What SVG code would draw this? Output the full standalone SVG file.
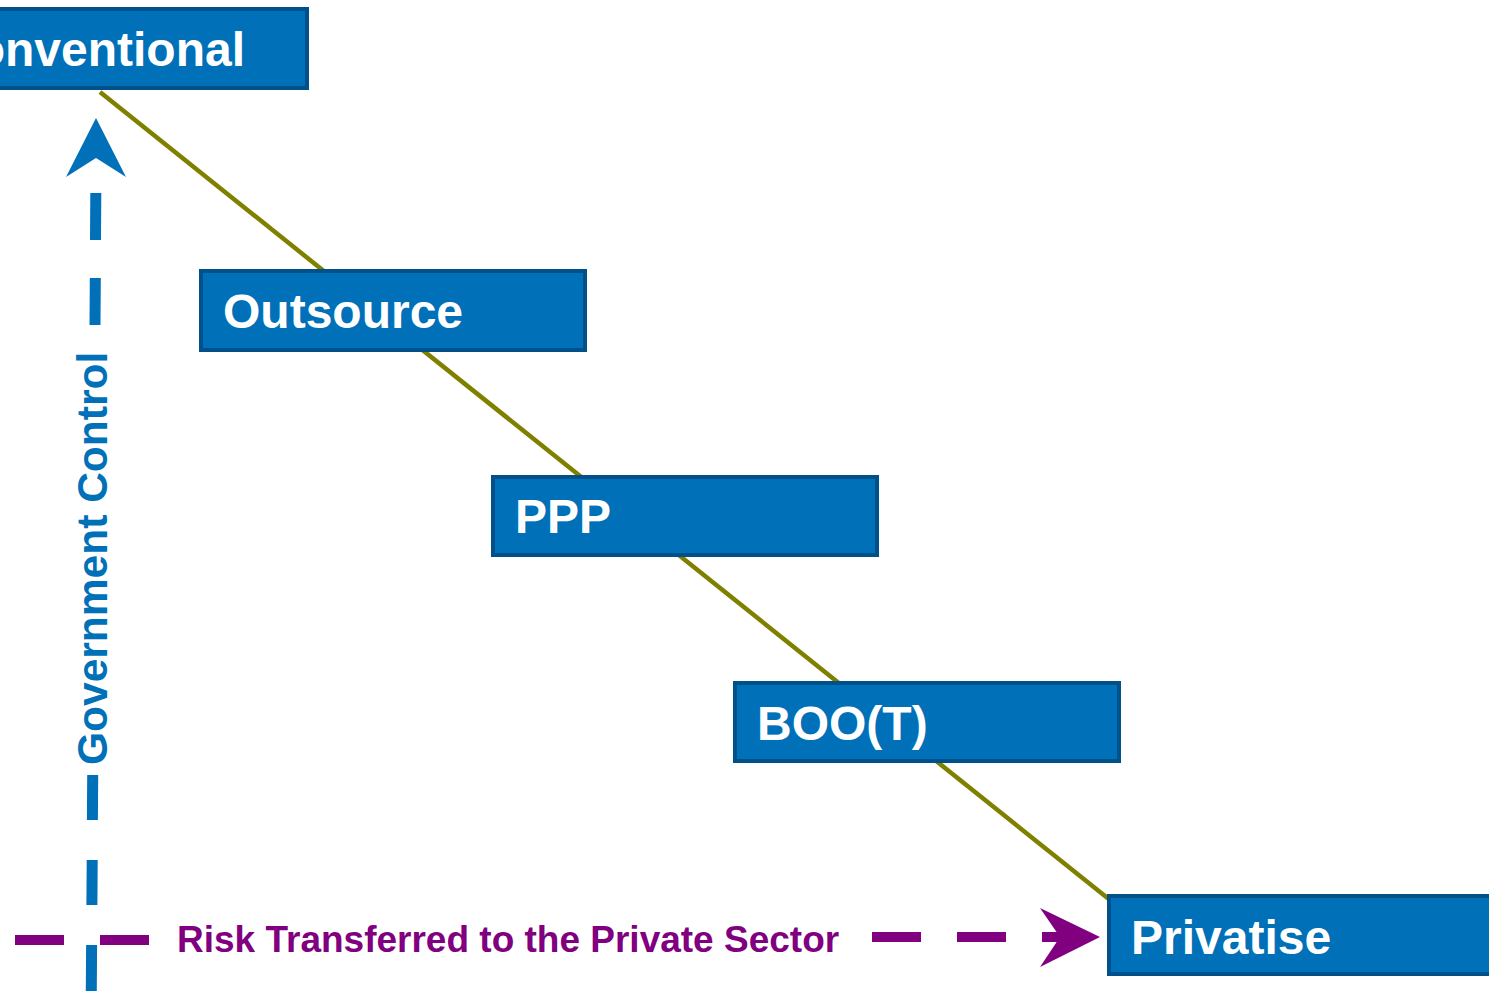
<svg xmlns="http://www.w3.org/2000/svg" width="1489" height="991" viewBox="0 0 1489 991">
  <style>
    .box rect { fill: #0070B8; stroke: #00508A; stroke-width: 4; }
    .box text { fill: #FFFFFF; font-family: "Liberation Sans", Arial, sans-serif; font-weight: bold; font-size: 48px; }
    .trend { stroke: #808000; stroke-width: 4.5; fill: none; }
    .axis-v { stroke: #0070B8; stroke-width: 11; fill: none; }
    .axis-h { stroke: #800080; stroke-width: 10; fill: none; }
    .label { font-family: "Liberation Sans", Arial, sans-serif; font-weight: bold; }
  </style>
  <rect width="1489" height="991" fill="#FFFFFF"/>

  <!-- connectors -->
  <g id="connectors">
    <line class="trend" x1="100" y1="92" x2="1110" y2="900"/>
    <!-- government control axis: dashes drawn as separate segments -->
    <path class="axis-v" d="M95.8,193 L95.5,240 M95.3,278 L95.0,325 M92.7,775 L92.4,820 M92.2,860 L91.9,905 M91.6,945 L91.3,991"/>
    <path d="M96,118 L126,177 L96,158 L66,177 Z" fill="#0070B8"/>
    <!-- risk transfer axis -->
    <path class="axis-h" d="M15,940 L64,940 M100,940 L149,940 M872,937 L921,937 M957,937 L1006,937 M1042,937 L1064,937"/>
    <path d="M1100,937 L1040,908 L1060,937 L1040,967 Z" fill="#800080"/>
  </g>

  <text class="label" font-size="42.5" fill="#0070B8" transform="translate(107,765) rotate(-90)">Government Control</text>
  <text class="label" font-size="37" fill="#800080" x="177" y="952">Risk Transferred to the Private Sector</text>

  <g id="node-conventional" class="box">
    <rect x="-77" y="9" width="384" height="79"/>
    <text x="245" y="66" text-anchor="end">Conventional</text>
  </g>
  <g id="node-outsource" class="box">
    <rect x="201" y="271" width="384" height="79"/>
    <text x="223" y="328">Outsource</text>
  </g>
  <g id="node-ppp" class="box">
    <rect x="493" y="477" width="384" height="78"/>
    <text x="515" y="533">PPP</text>
  </g>
  <g id="node-boot" class="box">
    <rect x="735" y="683" width="384" height="78"/>
    <text x="757" y="740">BOO(T)</text>
  </g>
  <g id="node-privatise" class="box">
    <rect x="1109" y="896" width="384" height="78"/>
    <text x="1131" y="954">Privatise</text>
  </g>
</svg>
